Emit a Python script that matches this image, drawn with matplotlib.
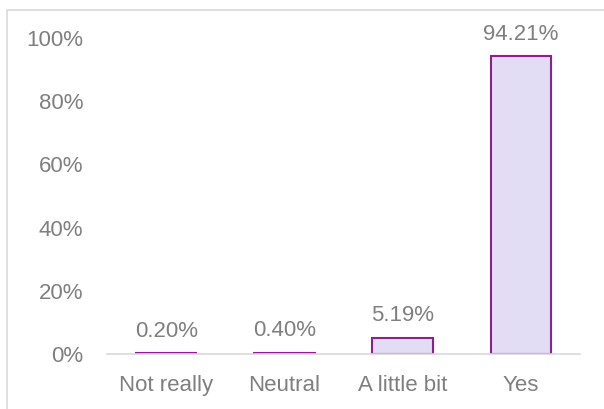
import matplotlib
matplotlib.use("Agg")
import matplotlib.pyplot as plt
from matplotlib.patches import Rectangle

categories = ["Not really", "Neutral", "A little bit", "Yes"]
values = [0.20, 0.40, 5.19, 94.21]
yticks = [0, 20, 40, 60, 80, 100]
ytick_labels = ["0%", "20%", "40%", "60%", "80%", "100%"]

plt.rcParams["font.family"] = ["Liberation Sans", "DejaVu Sans"]
text_color = "#7F7F7F"
fs = 16

fig = plt.figure(figsize=(6.04, 4.09), dpi=100)
ax = fig.add_axes([107 / 604, 1 - 354 / 409, 473 / 604, (354 - 38) / 409])

# chart area frame
fig.patches.append(Rectangle((7 / 604, -0.1), 1.2, 1.1 - 10 / 409, transform=fig.transFigure,
                             fill=False, edgecolor="#D9D9D9", linewidth=1.2))

x = range(len(categories))
ax.bar(x, values, width=0.51, color="#E2DDF5", edgecolor="#8E1F8E", linewidth=1.5, zorder=2)
for xi, v in zip(x, values):
    ax.text(xi, v + 3.6, f"{v:.2f}%", ha="center", va="bottom", fontsize=fs, color=text_color)

ax.set_xlim(-0.5, 3.5)
ax.set_ylim(0, 100)
ax.set_yticks(yticks)
ax.set_yticklabels(ytick_labels)
ax.set_xticks(list(x))
ax.set_xticklabels(categories)
ax.tick_params(axis="both", length=0, labelsize=fs, labelcolor=text_color)
ax.tick_params(axis="y", pad=17)
ax.tick_params(axis="x", pad=15)
for s in ["top", "right", "left"]:
    ax.spines[s].set_visible(False)
ax.spines["bottom"].set_color("#D9D9D9")
ax.spines["bottom"].set_linewidth(1.2)
ax.spines["bottom"].set_zorder(3)

fig.savefig("out.png", dpi=100)
